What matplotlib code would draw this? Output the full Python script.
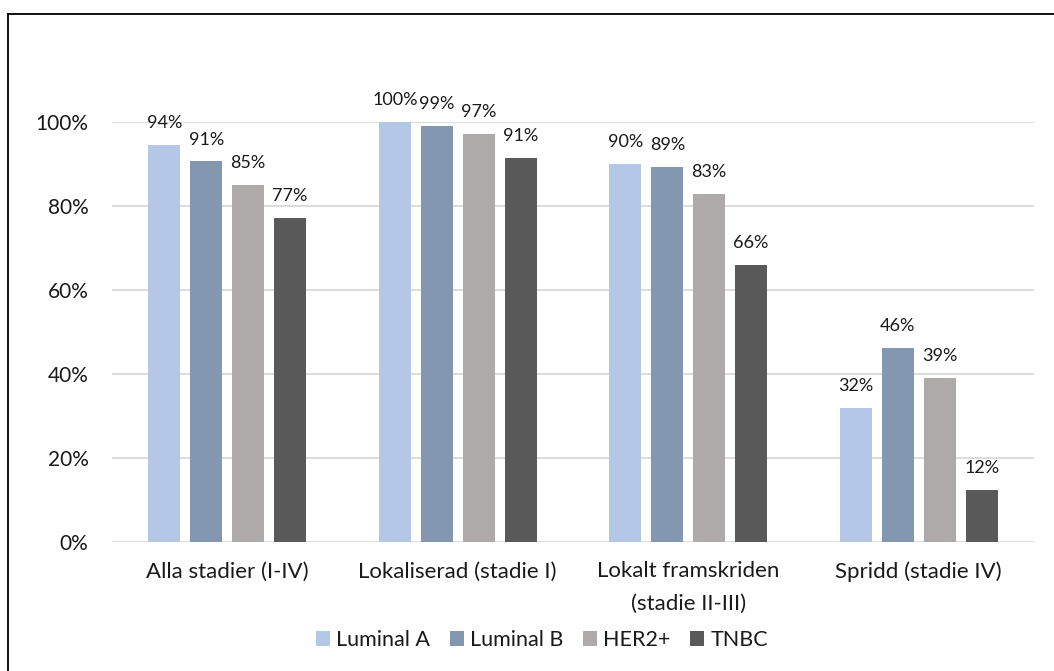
import numpy as np
import matplotlib as mpl
from matplotlib import pyplot as plt
from matplotlib.patches import Patch
from matplotlib.lines import Line2D

mpl.rcParams['font.family'] = ['Lato', 'DejaVu Sans']

# - Data
categories = ['Alla stadier (I-IV)', 'Lokaliserad (stadie I)',
              'Lokalt framskriden\n(stadie II-III)', 'Spridd (stadie IV)']
series = ['Luminal A', 'Luminal B', 'HER2+', 'TNBC']
luminal_a = [94.5, 100.0, 90.0, 32.0]
luminal_b = [90.6, 99.0, 89.3, 46.1]
her2 = [85.0, 97.2, 82.9, 39.0]
tnbc = [77.1, 91.4, 66.0, 12.3]
labels_a = ['94%', '100%', '90%', '32%']
labels_b = ['91%', '99%', '89%', '46%']
labels_h = ['85%', '97%', '83%', '39%']
labels_t = ['77%', '91%', '66%', '12%']

values = [luminal_a, luminal_b, her2, tnbc]
labels = [labels_a, labels_b, labels_h, labels_t]
colors = ['#B4C7E7', '#8497B0', '#AEAAAA', '#595959']
text_color = '#1A1A1A'

# - Figure
W, H = 1054, 671
fig = plt.figure(figsize=(W/100, H/100), dpi=100)
ax = fig.add_axes([112/W, 1-542/H, (1034-112)/W, (542-122)/H])

x = np.arange(len(categories))
width = 0.139
step = 0.182
for i in range(len(series)):
	pos = x + (i-1.5)*step
	bars = ax.bar(pos, values[i], width, color=colors[i], zorder=3)
	for xp, v, t in zip(pos, values[i], labels[i]):
		ax.annotate(t, (xp, v), xytext=(0, 10), textcoords='offset points',
			ha='center', va='bottom', fontsize=13, color=text_color, annotation_clip=False)

ax.set_xlim(-0.5, 3.5)
ax.set_ylim(0, 100)
ax.set_yticks([0, 20, 40, 60, 80, 100])
ax.set_yticklabels(['0%', '20%', '40%', '60%', '80%', '100%'])
ax.set_xticks(x)
ax.set_xticklabels(categories, linespacing=1.75)
ax.tick_params(axis='both', length=0, colors=text_color)
ax.tick_params(axis='x', pad=14, labelsize=16)
ax.tick_params(axis='y', pad=17, labelsize=15)
ax.grid(axis='y', color='#D9D9D9', linewidth=1.3, zorder=0)
for s in ax.spines.values():
	s.set_visible(False)

# - Legend
handles = [Patch(facecolor=c, edgecolor='none') for c in colors]
fig.legend(handles, series, loc='center', bbox_to_anchor=(542/W, 1-640/H), ncol=4,
	frameon=False, fontsize=15.5, handlelength=0.65, handleheight=0.65,
	handletextpad=0.3, columnspacing=0.9, labelcolor=text_color)

# - Outer frame (top and left only visible)
fig.add_artist(Line2D([8/W, 8/W], [0, 1-14/H], color='black', linewidth=1.3, transform=fig.transFigure))
fig.add_artist(Line2D([8/W, 1], [1-14/H, 1-14/H], color='black', linewidth=1.3, transform=fig.transFigure))

plt.savefig('out.png', dpi=100)
